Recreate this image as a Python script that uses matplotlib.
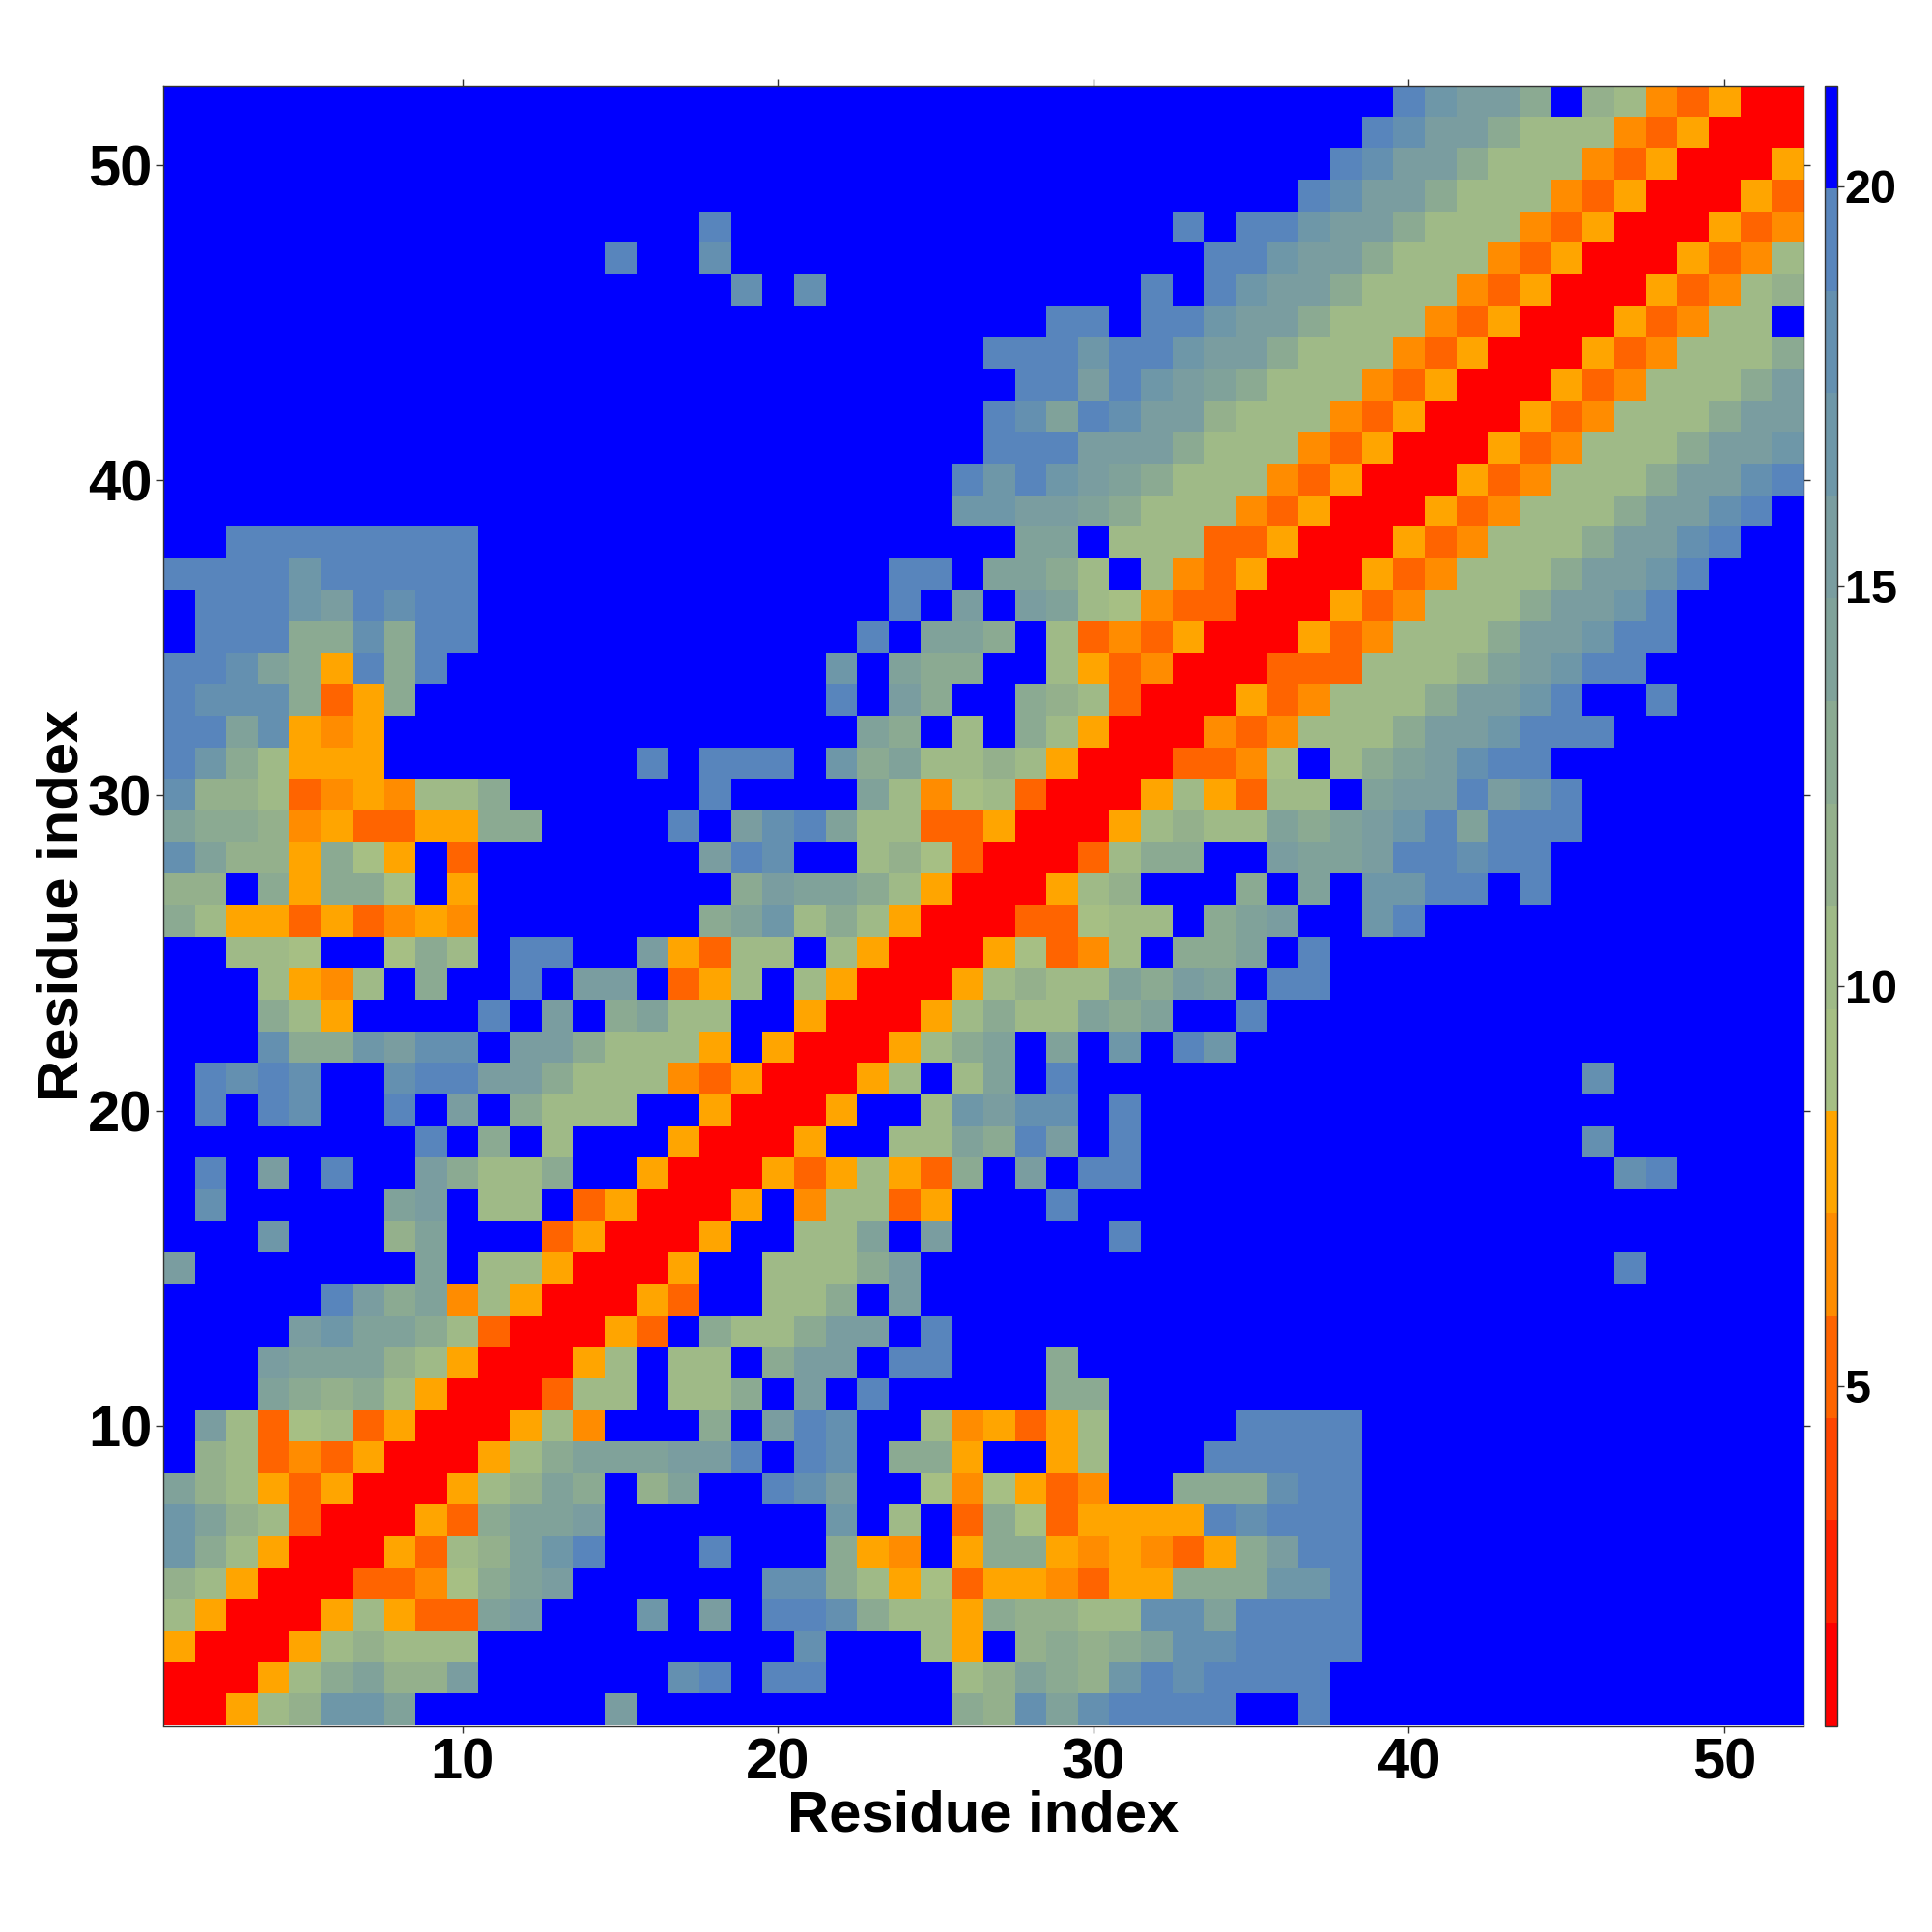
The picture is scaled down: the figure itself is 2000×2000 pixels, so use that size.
import numpy as np
import matplotlib
matplotlib.use("Agg")
import matplotlib.pyplot as plt
from matplotlib.colors import ListedColormap, BoundaryNorm
from matplotlib.colorbar import ColorbarBase

plt.rcParams['font.family'] = ['Liberation Sans', 'DejaVu Sans']
plt.rcParams['font.weight'] = 'bold'

F = "f"
# Lower triangle of the symmetric distance map; one hex digit = colour level
rows = [
 "0",
 "00",
 "500",
 "7500",
 "87500",
 "c97500",
 "ca87300",
 "a8753500",
 "f87343500",
 "fb73673500",
 "fffa9897500",
 "fffbaaa87500",
 "ffffbcaa97300",
 "fffffeb9a47500",
 "bfffffffaf77500",
 "fffcfff8afff3500",
 "fdfffffabf77f3500",
 "fefbfeffb9779ff500",
 "ffffffffef9f7fff500",
 "fefedffefbf9777ff500",
 "fededffdeebb977743500",
 "fffd99cbddfbb97775f500",
 "fff975ffffefbf9a77ff500",
 "fff7547f9ffefbbf357f7500",
 "ff776ff697feeffb5377f7500",
 "9755353454" + F*7 + "9ac797500",
 "88f95996f5" + F*8 + "9baa97500",
 "da885965f3" + F*7 + "b" + "edff786300",
 "a99845335599" + F*4 + "ef" + "bdea7733500",
 "d8873454779" + F*6 + "e" + F*4 + "a7467300",
 "ec97555" + F*8 + "ef" + "eee" + "f" + "c9a7787500",
 "eead545" + F*15 + "a9f7f97500",
 "eddd9359" + F*13 + "efb9ff987300",
 "eeda95e9e" + F*12 + "cfa99ff753400",
 "feee99d9ee" + F*12 + "efaa9f7343500",
 "feeecbedee" + F*13 + "efbfba7643300",
 "eeeeceeeee" + F*13 + "eefaa97f743500",
 "ffeeeeeeee" + F*17 + "aaf77733500",
 F*25 + "ccbba977743500",
 F*25 + "ececba977743500",
 F*26 + "eeebbb977743500",
 F*26 + "edaedbb877743500",
 F*27 + "eebecba977743500",
 F*26 + "eeeceecbb977743500",
 F*28 + "eefeecbb977743500",
 F*18 + "dfd" + F*10 + "efecbb977743500",
 F*14 + "effd" + F*15 + "eecbb977743500",
 F*17 + "e" + F*14 + "efeecbb977743500",
 F*36 + "edbb977743500",
 F*37 + "edbb977743500",
 F*38 + "edbb977743500",
 F*39 + "ecbb9f8743500",
]
level_colors = ["#FF0000", "#FF2200", "#FF4500", "#FF6400", "#FF8C00", "#FFA500",
                "#A6BF84", "#9FBA87", "#94B08C", "#8BAA92", "#80A29A", "#7A9DA0",
                "#6E97A8", "#6490B0", "#5885BC", "#0000FF"]
vmin, vmax = 0.75, 21.25
ticks_main = [10, 20, 30, 40, 50]
ticks_bar = [5, 10, 15, 20]
axis_label = "Residue index"

n = len(rows)
step = (vmax - vmin) / len(level_colors)
Z = np.full((n, n), np.nan)
for r, s in enumerate(rows):
    assert len(s) == r + 1, (r + 1, len(s))
    for c, ch in enumerate(s):
        Z[r, c] = Z[c, r] = vmin + step * (int(ch, 16) + 0.5)

cmap = ListedColormap(level_colors)
norm = BoundaryNorm(np.linspace(vmin, vmax, len(level_colors) + 1), len(level_colors))

W = 2000.0
fig = plt.figure(figsize=(20, 20), dpi=100, facecolor="white")
ax = fig.add_axes([168.5 / W, 1 - 1786.5 / W, 1698 / W, 1697.5 / W])
ax.imshow(Z, origin="lower", cmap=cmap, norm=norm, interpolation="nearest",
          extent=(0.5, n + 0.5, 0.5, n + 0.5), aspect="auto")
ax.set_xticks(ticks_main)
ax.set_yticks(ticks_main)
ax.tick_params(axis="both", which="major", top=True, right=True, direction="out",
               length=5, width=1, color="#333333", labelsize=43)
ax.tick_params(axis="y", pad=3)
ax.tick_params(axis="x", pad=4)
for s in ax.spines.values():
    s.set_linewidth(1)
    s.set_color("#333333")
ax.set_xlabel(axis_label, fontsize=43, fontweight="bold", labelpad=-1)
ax.set_ylabel(axis_label, fontsize=43, fontweight="bold", labelpad=-1)

cax = fig.add_axes([1889 / W, 1 - 1786.5 / W, 12.5 / W, 1697.5 / W])
cb = ColorbarBase(cax, cmap=cmap, norm=norm, orientation="vertical",
                  spacing="proportional", ticks=ticks_bar, drawedges=False)
cb.ax.set_yticklabels([str(t) for t in ticks_bar])
cb.ax.tick_params(axis="y", which="major", direction="out", length=5, width=1,
                  color="#333333", labelsize=35, pad=1)
cb.ax.minorticks_off()
cb.outline.set_linewidth(1)
cb.outline.set_edgecolor("#333333")

fig.savefig("out.png", dpi=100)
